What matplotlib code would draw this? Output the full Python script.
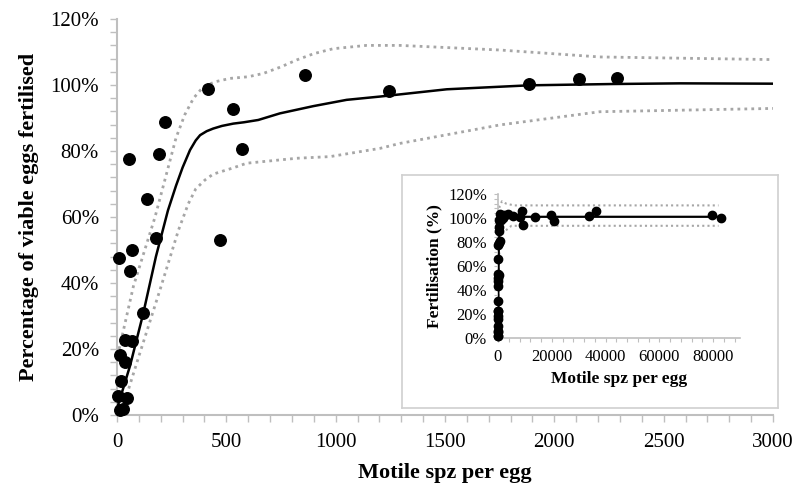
import matplotlib
matplotlib.use("Agg")
import matplotlib.pyplot as plt
from matplotlib.ticker import MultipleLocator, PercentFormatter

# ---- main scatter data (motile spz per egg, % fertilised)
obs_x = [14, 29, 3, 44, 17, 14, 37, 37, 67, 117, 11, 70, 59, 178, 139, 56, 194, 219,
         418, 529, 573, 471, 860, 1245, 1884, 2113, 2285]
obs_y = [1.5, 1.7, 5.8, 5.2, 10.4, 18.2, 16.2, 22.7, 22.5, 30.8, 47.7, 50, 43.6, 53.5,
         65.6, 77.5, 79, 88.8, 98.7, 92.7, 80.6, 52.9, 103, 98.3, 100.2, 101.8, 102.1]

# ---- fitted curve and confidence band (main panel)
fit_x = [5, 60, 119, 178, 233, 270, 300, 334, 360, 380, 410, 440, 480, 532, 580, 646,
         745, 898, 1050, 1203, 1508, 1884, 2268, 2575, 3000]
fit_y = [3, 15, 30.5, 48, 62, 69.5, 75, 80.3, 83.2, 84.8, 86.0, 86.8, 87.6, 88.3, 88.7,
         89.4, 91.4, 93.6, 95.5, 96.5, 98.7, 99.9, 100.3, 100.5, 100.4]
upper_x = [10, 75, 174, 230, 270, 310, 350, 395, 450, 517, 600, 669, 750, 822, 900, 989,
           1141, 1294, 1751, 2208, 3000]
upper_y = [20, 39, 60, 74, 84, 91, 96, 99.5, 101, 102, 102.5, 103.5, 105.5, 107.6, 109.5,
           111, 112, 112, 110.6, 108.5, 107.7]
lower_x = [25, 37, 100, 197, 281, 326, 360, 402, 440, 532, 593, 822, 974, 1203, 1294,
           1751, 2208, 3000]
lower_y = [2, 4.5, 17.8, 38, 56, 64, 68.5, 71.2, 73.0, 74.9, 76.3, 77.8, 78.3, 80.8,
           82.3, 87.9, 91.9, 92.9]

# ---- inset: additional observations at high sperm numbers
extra_x = [3830, 5690, 8190, 8820, 9190, 13770, 19720, 20840, 33970, 36470, 79500, 82860]
extra_y = [103, 101.5, 101, 105.5, 94, 100.8, 102.7, 97.2, 102, 105.5, 102.7, 100]
inset_fit_x = [0, 60, 178, 334, 646, 1500, 3000, 83000]
inset_fit_y = [0, 15, 49, 80, 89.4, 98, 101, 101]
inset_up_x = [0, 200, 600, 1500, 3000, 6000, 82000]
inset_up_y = [0, 90, 110, 114, 112, 110.5, 110.5]
inset_lo_x = [0, 300, 600, 2000, 5000, 82000]
inset_lo_y = [0, 60, 75, 88, 93.5, 93.5]

W, H = 797, 486
fig = plt.figure(figsize=(W / 100, H / 100), dpi=100)
serif = ["Liberation Serif", "DejaVu Serif"]
plt.rcParams["font.family"] = serif
grey = "#bfbfbf"
band = "#a6a6a6"

def fx(px):
    return px / W

def fy(py):
    return 1 - py / H

# main axes: x 0..3000 between px 117..773 ; y 0..120 between py 415..19
ax = fig.add_axes([fx(117), fy(415), fx(773) - fx(117), fy(19) - fy(415)])
ax.plot(upper_x, upper_y, color=band, lw=2, ls=(0, (1, 1.5)), zorder=2)
ax.plot(lower_x, lower_y, color=band, lw=2, ls=(0, (1, 1.5)), zorder=2)
ax.plot(fit_x, fit_y, color="black", lw=1.8, zorder=3)
ax.plot(obs_x, obs_y, "o", color="black", ms=8.3, zorder=4, clip_on=False)
ax.set_xlim(0, 3000)
ax.set_ylim(0, 120)
ax.xaxis.set_major_locator(MultipleLocator(500))
ax.xaxis.set_minor_locator(MultipleLocator(100))
ax.yaxis.set_major_locator(MultipleLocator(20))
ax.yaxis.set_minor_locator(MultipleLocator(4))
ax.yaxis.set_major_formatter(PercentFormatter(decimals=0))
for s in ["top", "right"]:
    ax.spines[s].set_visible(False)
for s in ["left", "bottom"]:
    ax.spines[s].set_color(grey)
    ax.spines[s].set_linewidth(1.5)
ax.tick_params(which="both", direction="out", color=grey, width=1, length=5)
ax.tick_params(which="major", labelsize=15, pad=8)
ax.set_xlabel("Motile spz per egg", fontsize=16, fontweight="bold", labelpad=8)
ax.set_ylabel("Percentage of viable eggs fertilised", fontsize=16, fontweight="bold", labelpad=8)

# inset frame
box = fig.add_axes([fx(402), fy(408), fx(778) - fx(402), fy(175) - fy(408)])
box.set_xticks([])
box.set_yticks([])
box.set_facecolor("white")
for s in box.spines.values():
    s.set_color("#d0d0d0")
    s.set_linewidth(1.2)
box.set_zorder(5)

# inset axes: x 0..90000 between px 498..740 ; y 0..120 between py 338..194
ins = fig.add_axes([fx(498), fy(338), fx(740) - fx(498), fy(194) - fy(338)])
ins.set_zorder(6)
ins.patch.set_alpha(0)
ins.plot(inset_up_x, inset_up_y, color=band, lw=1.5, ls=(0, (1, 1.5)), zorder=2)
ins.plot(inset_lo_x, inset_lo_y, color=band, lw=1.5, ls=(0, (1, 1.5)), zorder=2)
ins.plot(inset_fit_x, inset_fit_y, color="black", lw=1.6, zorder=3)
ins.plot(obs_x, obs_y, "o", color="black", ms=6, zorder=4, clip_on=False)
ins.plot(extra_x, extra_y, "o", color="black", ms=6, zorder=4, clip_on=False)
ins.set_xlim(0, 90000)
ins.set_ylim(0, 120)
ins.xaxis.set_major_locator(MultipleLocator(20000))
ins.xaxis.set_minor_locator(MultipleLocator(4000))
ins.yaxis.set_major_locator(MultipleLocator(20))
ins.yaxis.set_minor_locator(MultipleLocator(4))
ins.yaxis.set_major_formatter(PercentFormatter(decimals=0))
for s in ["top", "right"]:
    ins.spines[s].set_visible(False)
for s in ["left", "bottom"]:
    ins.spines[s].set_color(grey)
    ins.spines[s].set_linewidth(1.2)
ins.tick_params(which="both", direction="out", color=grey, width=0.8, length=3)
ins.tick_params(which="major", labelsize=12, pad=5)
ins.set_xlabel("Motile spz per egg", fontsize=12.5, fontweight="bold", labelpad=4)
ins.set_ylabel("Fertilisation (%)", fontsize=12.5, fontweight="bold", labelpad=4)

fig.savefig("out.png", dpi=100)
